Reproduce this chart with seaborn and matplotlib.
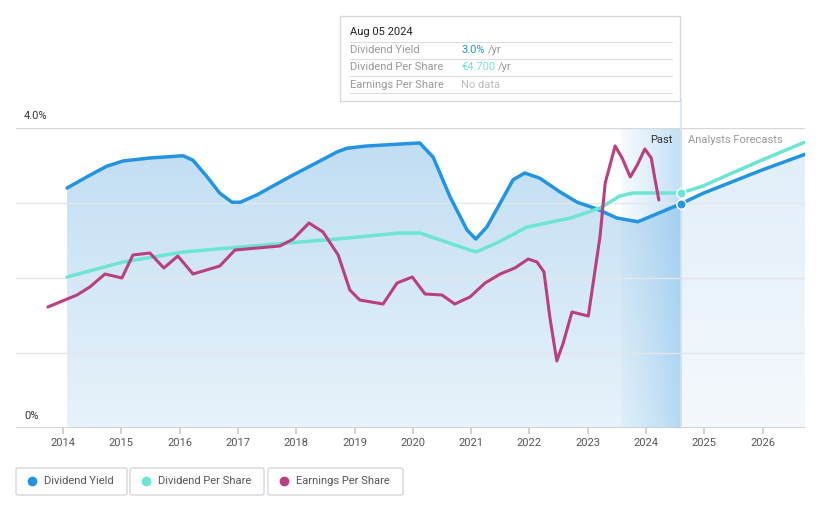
import numpy as np
import pandas as pd
import matplotlib
matplotlib.use('Agg')
import matplotlib.pyplot as plt
import seaborn as sns
from matplotlib.patches import FancyBboxPatch, Rectangle
from matplotlib.colors import LinearSegmentedColormap

# --- data ---
yield_years = [2014.07, 2014.46, 2014.75, 2015.03, 2015.49, 2016.06, 2016.23, 2016.47, 2016.69,
               2016.90, 2017.04, 2017.33, 2017.89, 2018.70, 2018.87, 2019.21, 2020.09, 2020.12,
               2020.35, 2020.64, 2020.93, 2021.08, 2021.27, 2021.50, 2021.72, 2021.92, 2022.18,
               2022.52, 2022.82, 2023.16, 2023.50, 2023.86, 2024.20, 2024.60, 2024.98, 2025.99, 2026.73]
yield_pct = [3.20, 3.37, 3.49, 3.56, 3.60, 3.63, 3.57, 3.35, 3.13,
             3.01, 3.01, 3.11, 3.35, 3.68, 3.73, 3.76, 3.80, 3.80,
             3.61, 3.08, 2.64, 2.52, 2.68, 3.00, 3.31, 3.40, 3.33,
             3.15, 3.01, 2.92, 2.80, 2.75, 2.86, 2.99, 3.13, 3.44, 3.65]

dps_years = [2014.07, 2015.03, 2016.06, 2017.04, 2018.70, 2019.78, 2020.12, 2020.47, 2021.08,
             2021.44, 2021.96, 2022.71, 2023.21, 2023.55, 2023.78, 2024.60, 2024.98, 2025.44,
             2025.99, 2026.73]
dps_eur = [3.02, 3.32, 3.52, 3.62, 3.78, 3.90, 3.90, 3.76, 3.52,
           3.70, 4.02, 4.20, 4.40, 4.64, 4.70, 4.70, 4.84, 5.08,
           5.36, 5.72]

eps_years = [2013.74, 2014.24, 2014.46, 2014.72, 2015.01, 2015.20, 2015.49, 2015.73, 2015.97,
             2016.23, 2016.69, 2016.95, 2017.72, 2017.95, 2018.22, 2018.46, 2018.72, 2018.92,
             2019.09, 2019.49, 2019.73, 2019.99, 2020.21, 2020.50, 2020.72, 2020.98, 2021.24,
             2021.50, 2021.75, 2021.98, 2022.13, 2022.25, 2022.35, 2022.47, 2022.58, 2022.73,
             2023.01, 2023.21, 2023.30, 2023.47, 2023.59, 2023.73, 2023.85, 2023.98, 2024.09,
             2024.15, 2024.22]
eps_eur = [4.84, 5.32, 5.64, 6.16, 6.00, 6.92, 7.00, 6.40, 6.88,
           6.16, 6.48, 7.12, 7.28, 7.56, 8.20, 7.84, 6.92, 5.52,
           5.12, 4.96, 5.80, 6.04, 5.36, 5.32, 4.96, 5.24, 5.80,
           6.16, 6.40, 6.76, 6.64, 6.24, 4.44, 2.68, 3.40, 4.64,
           4.48, 7.64, 9.80, 11.28, 10.80, 10.04, 10.52, 11.16, 10.80,
           10.00, 9.12]

year_ticks = list(range(2014, 2027))
today = 2024.60
past_start = 2023.57

BLUE = '#2394DF'
TEAL = '#6CE5D4'
MAGENTA = '#BA3F80'
GRID = '#E3E6EA'

sns.set_theme(style='white')
plt.rcParams['font.family'] = ['Roboto', 'DejaVu Sans']

fig = plt.figure(figsize=(8.21, 5.08), dpi=100)
W, H = 821, 508
ax = fig.add_axes([16 / W, (H - 428) / H, (805 - 16) / W, 300 / H])
xmin, xmax = 2013.194, 2026.727

df_y = pd.DataFrame({'year': yield_years, 'value': yield_pct})
df_d = pd.DataFrame({'year': dps_years, 'value': dps_eur})
df_e = pd.DataFrame({'year': eps_years, 'value': eps_eur})

# gradient fills under the dividend yield line
past = df_y[df_y.year <= today]
fut = df_y[df_y.year >= today]
cm_past = LinearSegmentedColormap.from_list('p', ['#E8F3FB', '#C0DDF3'])
cm_fut = LinearSegmentedColormap.from_list('f', ['#F5F9FD', '#E0EEF9'])
grad = np.linspace(0, 1, 256).reshape(-1, 1)
for part, cm in [(past, cm_past), (fut, cm_fut)]:
    poly = ax.fill_between(part.year, 0, part.value, color='none', lw=0)
    im = ax.imshow(grad, extent=[part.year.min(), part.year.max(), 0, 3.9], origin='lower',
                   aspect='auto', cmap=cm, zorder=1)
    im.set_clip_path(poly.get_paths()[0], transform=ax.transData)

# "past" band
band = np.linspace(0, 1, 256).reshape(1, -1)
cm_band = LinearSegmentedColormap.from_list('b', [(0.55, 0.78, 0.93, 0.08), (0.45, 0.72, 0.92, 0.45)])
ax.imshow(band, extent=[past_start, today, 0, 4.0], aspect='auto', cmap=cm_band, zorder=1.5)

for yv in [1, 2, 3, 4]:
    ax.axhline(yv, color=GRID if yv < 4 else '#D5D8DC', lw=1, zorder=1.6)
ax.axhline(0, color='#C8CCD0', lw=1.2, zorder=2)

ax.axvline(today, ymin=0, ymax=1.093, color='#CFE6F7', lw=1.2, clip_on=False, zorder=2)

line_kw = dict(solid_joinstyle='round', solid_capstyle='round')
sns.lineplot(data=df_y, x='year', y='value', ax=ax, color=BLUE, lw=2.5, zorder=5, **line_kw)
ax.scatter([today], [2.99], s=45, color=BLUE, edgecolor='white', lw=1, zorder=6)

ax2 = ax.twinx()
sns.lineplot(data=df_d, x='year', y='value', ax=ax2, color=TEAL, lw=2.5, zorder=4, **line_kw)
ax2.scatter([today], [4.70], s=45, color=TEAL, edgecolor='white', lw=1, zorder=6)
ax2.set_ylim(0, 6)

ax3 = ax.twinx()
sns.lineplot(data=df_e, x='year', y='value', ax=ax3, color=MAGENTA, lw=2.2, zorder=4, **line_kw)
ax3.set_ylim(0, 12)

for a in (ax, ax2, ax3):
    a.set_xlim(xmin, xmax)
    a.set_xlabel('')
    a.set_ylabel('')
    for s in a.spines.values():
        s.set_visible(False)
    a.patch.set_visible(False)
ax2.set_yticks([])
ax3.set_yticks([])
ax.set_ylim(0, 4.0)
ax.set_yticks([])
ax.set_xticks(year_ticks)
ax.set_xticklabels([str(y) for y in year_ticks], fontsize=8, color='#555555')
ax.tick_params(axis='x', length=4, color='#C8CCD0', pad=3, bottom=True)

fig.text(24 / W, 1 - 116 / H, '4.0%', fontsize=8, color='#333333', va='center')
fig.text(24 / W, 1 - 416 / H, '0%', fontsize=8, color='#333333', va='center')

fig.text(672 / W, 1 - 140 / H, 'Past', fontsize=8, color='#333333', ha='right', va='center')
fig.text(688 / W, 1 - 140 / H, 'Analysts Forecasts', fontsize=8, color='#999999', ha='left', va='center')

# tooltip box
fig.patches.append(Rectangle((340 / W, 1 - 101 / H), 340 / W, 85 / H, transform=fig.transFigure,
                             facecolor='white', edgecolor='#D5D8DC', lw=1, zorder=10))
fig.text(350 / W, 1 - 32 / H, 'Aug 05 2024', fontsize=8, color='#222222', va='center', zorder=11)
rows = [('Dividend Yield', '3.0%', BLUE), ('Dividend Per Share', '€4.700', TEAL),
        ('Earnings Per Share', 'No data', '#BBBBBB')]
for i, (lab, val, col) in enumerate(rows):
    yy = 1 - (50 + 17.5 * i) / H
    fig.text(350 / W, yy, lab, fontsize=8, color='#999999', va='center', zorder=11)
    t = fig.text(461 / W, yy, val, fontsize=8, color=col, va='center', zorder=11)
    if val != 'No data':
        fig.canvas.draw()
        bb = t.get_window_extent()
        fig.text((bb.x1 + 3) / W, yy, '/yr', fontsize=8, color='#999999', va='center', zorder=11)
for ly in [42, 59, 76, 93]:
    fig.add_artist(plt.Line2D([350 / W, 672 / W], [1 - ly / H] * 2, color='#DDDDDD', lw=0.8, zorder=11))

# legend boxes
legend = [('Dividend Yield', BLUE, 16, 127), ('Dividend Per Share', TEAL, 130, 264),
          ('Earnings Per Share', MAGENTA, 268, 403)]
for lab, col, x0, x1 in legend:
    fig.patches.append(FancyBboxPatch((x0 / W, 1 - 495 / H), (x1 - x0) / W, 27 / H,
                                      boxstyle='round,pad=0,rounding_size=0.003',
                                      transform=fig.transFigure, facecolor='white',
                                      edgecolor='#D5D8DC', lw=1))
    fig.add_artist(plt.Line2D([(x0 + 16) / W], [1 - 481 / H], marker='o', ms=6, color=col,
                              mec=col, lw=0))
    fig.text((x0 + 28) / W, 1 - 481 / H, lab, fontsize=8, color='#555555', va='center')

fig.savefig('out.png', dpi=100)
